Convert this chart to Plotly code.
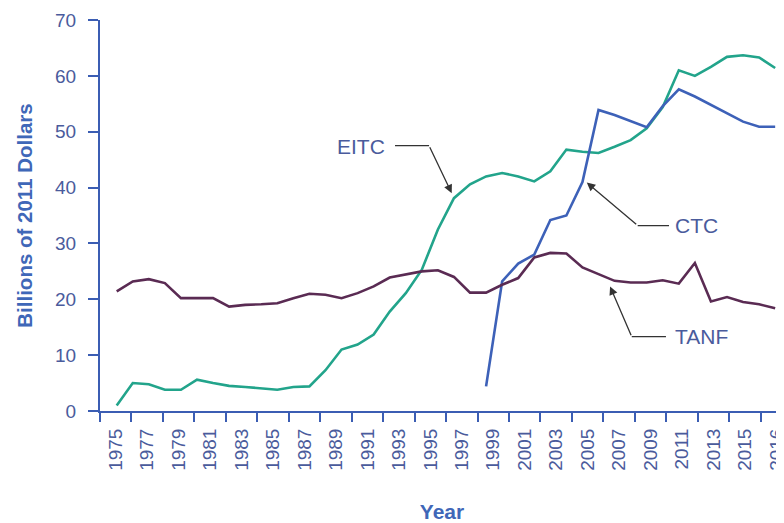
import plotly.graph_objects as go

# ---- data ----
years = list(range(1975, 2017))

eitc = [1.0, 5.0, 4.8, 3.8, 3.8, 5.6, 5.0, 4.5, 4.3, 4.0,
        3.8, 4.3, 4.4, 7.3, 11.0, 11.9, 13.7, 17.8, 21.1, 25.3,
        32.5, 38.1, 40.6, 42.0, 42.6, 42.0, 41.1, 42.9, 46.8, 46.4,
        46.2, 47.3, 48.5, 50.6, 54.4, 61.0, 60.0, 61.6, 63.4, 63.7,
        63.3, 61.4]

ctc_years = list(range(1998, 2017))
ctc = [4.4, 23.2, 26.4, 28.0, 34.2, 35.0, 41.0, 53.9, 53.0, 51.9,
       50.8, 54.6, 57.6, 56.3, 54.8, 53.3, 51.8, 50.9, 50.9]

tanf = [21.4, 23.2, 23.6, 22.9, 20.2, 20.2, 20.2, 18.7, 19.0, 19.1,
        19.3, 20.2, 21.0, 20.8, 20.2, 21.1, 22.3, 23.9, 24.4, 25.0,
        25.2, 24.0, 21.2, 21.2, 22.6, 23.8, 27.5, 28.3, 28.2, 25.7,
        24.5, 23.3, 23.0, 23.0, 23.4, 22.8, 26.5, 19.6, 20.4, 19.5,
        19.1, 18.4]

tick_labels = ["1975", "1977", "1979", "1981", "1983", "1985", "1987", "1989",
               "1991", "1993", "1995", "1997", "1999", "2001", "2003", "2005",
               "2007", "2009", "2011", "2013", "2015", "2016"]
y_ticks = [0, 10, 20, 30, 40, 50, 60, 70]

# ---- styles ----
C_EITC = "#22a48b"
C_CTC = "#3d61b8"
C_TANF = "#5a2b53"
AXIS = "#3b5db3"
TICKTXT = "#4a5b9c"
TITLE = "#3f67b8"
LEADER = "#333333"
FONT = "Liberation Sans, Arial, sans-serif"

fig = go.Figure()
fig.add_trace(go.Scatter(x=years, y=eitc, mode="lines", name="EITC",
                         line=dict(color=C_EITC, width=2.6)))
fig.add_trace(go.Scatter(x=ctc_years, y=ctc, mode="lines", name="CTC",
                         line=dict(color=C_CTC, width=2.6)))
fig.add_trace(go.Scatter(x=years, y=tanf, mode="lines", name="TANF",
                         line=dict(color=C_TANF, width=2.6)))
# invisible trace that carries the category tick labels
fig.add_trace(go.Scatter(x=tick_labels, y=[None] * len(tick_labels), xaxis="x2",
                         mode="lines", showlegend=False, hoverinfo="skip"))

# labels with elbow leader lines
labels = [
    # text, text pos, elbow start, elbow corner, arrow tip
    ("EITC", (1990.24, 47.3), (1992.33, 47.5), (1994.45, 47.5), (1995.86, 39.0)),
    ("CTC", (2011.1, 33.2), (2009.39, 33.2), (2007.44, 33.2), (2004.27, 40.9)),
    ("TANF", (2011.43, 13.3), (2009.2, 13.3), (2007.07, 13.3), (2005.72, 22.3)),
]
for text, tp, s0, s1, tip in labels:
    fig.add_annotation(x=tp[0], y=tp[1], xref="x", yref="y", text=text,
                       showarrow=False, font=dict(family=FONT, size=21, color=TICKTXT))
    fig.add_shape(type="line", xref="x", yref="y", x0=s0[0], y0=s0[1],
                  x1=s1[0], y1=s1[1], line=dict(color=LEADER, width=1.3))
    fig.add_annotation(x=tip[0], y=tip[1], ax=s1[0], ay=s1[1], xref="x", yref="y",
                       axref="x", ayref="y", text="", showarrow=True,
                       arrowhead=2, arrowsize=1.3, arrowwidth=1.3,
                       arrowcolor=LEADER, standoff=0, startstandoff=0)

fig.update_layout(
    width=784, height=523,
    margin=dict(l=92, r=8, t=12, b=120, autoexpand=False),
    paper_bgcolor="white", plot_bgcolor="white",
    showlegend=False,
    font=dict(family=FONT, color=TICKTXT),
    xaxis=dict(range=[1973.96, 2016.55], visible=False, showgrid=False,
               zeroline=False, automargin=False),
    xaxis2=dict(type="category", overlaying="x", anchor="y", side="bottom",
                categoryorder="array", categoryarray=tick_labels,
                range=[-0.5, 21.24], tickson="boundaries", automargin=False,
                showline=True, linecolor=AXIS, linewidth=2,
                ticks="outside", ticklen=9, tickwidth=2, tickcolor=AXIS,
                ticklabelstandoff=8,
                tickangle=-90, tickfont=dict(family=FONT, size=19, color=TICKTXT),
                showgrid=False, zeroline=False,
                title=dict(text="Year", standoff=34,
                           font=dict(family=FONT, size=21, color=TITLE, weight="bold"))),
    yaxis=dict(range=[0, 70], tickvals=y_ticks, showline=True, linecolor=AXIS,
               linewidth=2, ticks="outside", ticklen=10, tickwidth=2, tickcolor=AXIS,
               tickfont=dict(family=FONT, size=19, color=TICKTXT),
               ticklabelstandoff=8, automargin=False,
               showgrid=False, zeroline=False,
               title=dict(text="Billions of 2011 Dollars", standoff=17,
                          font=dict(family=FONT, size=20.5, color=TITLE, weight="bold"))),
)

fig.write_html("out.html")
